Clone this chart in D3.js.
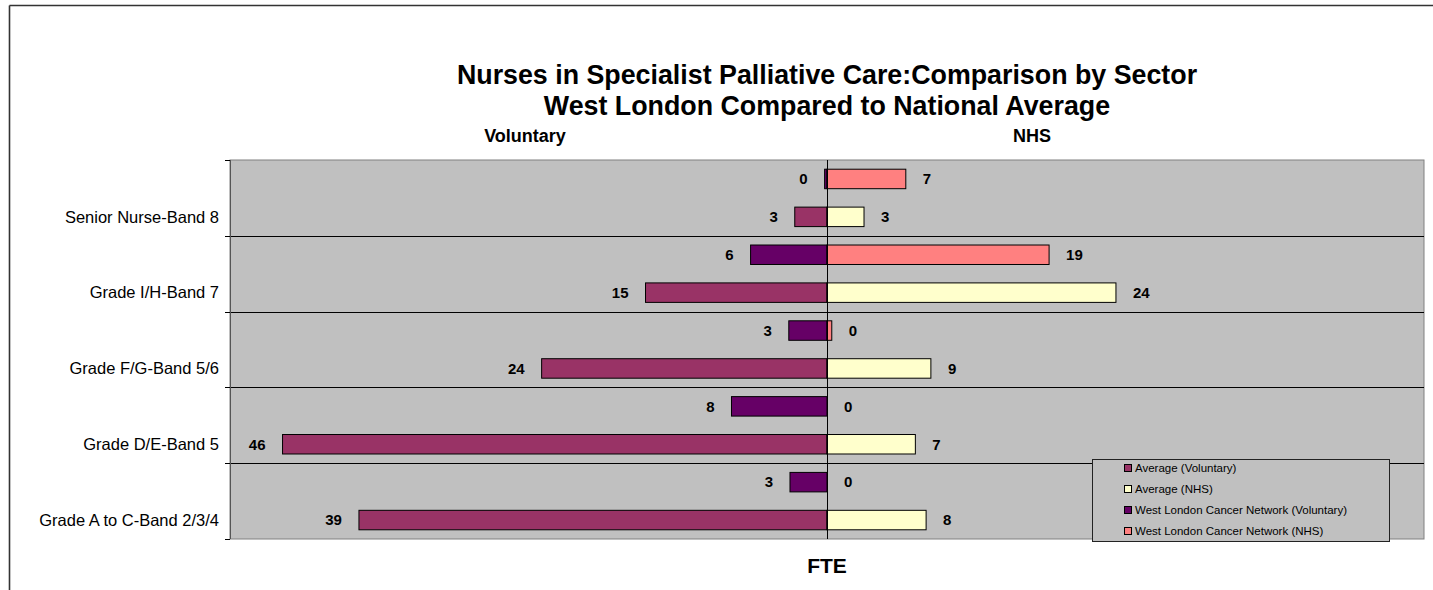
<!DOCTYPE html>
<html>
<head>
<meta charset="utf-8">
<script src="https://cdn.jsdelivr.net/npm/d3@7"></script>
<style>
  body { margin: 0; background: #fff; overflow: hidden; }
  text { font-family: Arial, "Liberation Sans", sans-serif; }
</style>
</head>
<body>
<div id="chart"></div>
<script>
// categories, top to bottom
var categories = ["Senior Nurse-Band 8", "Grade I/H-Band 7", "Grade F/G-Band 5/6", "Grade D/E-Band 5", "Grade A to C-Band 2/3/4"];

// FTE values (voluntary drawn to the left, NHS to the right)
var avgVoluntary = [2.7, 15.2, 23.9, 45.6, 39.2];
var avgNHS = [3.1, 24.2, 8.7, 7.4, 8.3];
var wlVoluntary = [0.2, 6.4, 3.2, 8.0, 3.1];
var wlNHS = [6.6, 18.6, 0.4, 0, 0];

var legendLabels = ["Average (Voluntary)", "Average (NHS)", "West London Cancer Network (Voluntary)", "West London Cancer Network (NHS)"];
var colors = ["#993366", "#FFFFCC", "#660066", "#FF8080"];

function init() {
    var width = 1433;
    var height = 590;

    var plot = { left: 230, right: 1424, top: 160, bottom: 539 };

    var svg = d3.select("#chart")
        .append("svg")
        .attr("width", width)
        .attr("height", height)
        .style("display", "block");

    // outer chart frame (only top and left edges fall inside the picture)
    svg.append("line")
        .attr("x1", 9.5).attr("x2", width + 10)
        .attr("y1", 5.5).attr("y2", 5.5)
        .attr("stroke", "#333")
        .attr("stroke-width", 1.6);
    svg.append("line")
        .attr("x1", 9.5).attr("x2", 9.5)
        .attr("y1", 5.5).attr("y2", height + 10)
        .attr("stroke", "#333")
        .attr("stroke-width", 1.6);

    var x = d3.scaleLinear()
        .domain([-50, 50])
        .range([plot.left, plot.right]);

    var y = d3.scaleBand()
        .domain(categories)
        .range([plot.top, plot.bottom]);

    // two bar rows per category: network on top, average below
    var ySub = d3.scaleBand()
        .domain(["wl", "avg"])
        .range([0, y.bandwidth()])
        .paddingInner(0.486)
        .paddingOuter(0.243);

    // plot area
    svg.append("rect")
        .attr("x", plot.left).attr("y", plot.top)
        .attr("width", plot.right - plot.left)
        .attr("height", plot.bottom - plot.top)
        .attr("fill", "#C0C0C0")
        .attr("stroke", "#808080")
        .attr("stroke-width", 1);

    // gridlines between categories
    var bounds = categories.slice(1).map(function (c) { return Math.round(y(c)) + 0.5; });
    svg.selectAll(".grid")
        .data(bounds)
        .enter()
        .append("line")
        .attr("x1", plot.left).attr("x2", plot.right)
        .attr("y1", function (d) { return d; })
        .attr("y2", function (d) { return d; })
        .attr("stroke", "#000")
        .attr("stroke-width", 1);

    // left category axis with ticks on band edges
    var ticks = [plot.top].concat(categories.slice(1).map(function (c) { return y(c); })).concat([plot.bottom]);
    svg.append("line")
        .attr("x1", plot.left + 0.5).attr("x2", plot.left + 0.5)
        .attr("y1", plot.top).attr("y2", plot.bottom)
        .attr("stroke", "#555");
    svg.selectAll(".tick")
        .data(ticks)
        .enter()
        .append("line")
        .attr("x1", plot.left - 5).attr("x2", plot.left)
        .attr("y1", function (d) { return Math.round(d) + 0.5; })
        .attr("y2", function (d) { return Math.round(d) + 0.5; })
        .attr("stroke", "#000");

    // series table built from the arrays
    var series = [
        { key: "avg", values: avgVoluntary, sign: -1, color: colors[0] },
        { key: "avg", values: avgNHS, sign: 1, color: colors[1] },
        { key: "wl", values: wlVoluntary, sign: -1, color: colors[2] },
        { key: "wl", values: wlNHS, sign: 1, color: colors[3] }
    ];

    var rows = [];
    series.forEach(function (s) {
        s.values.forEach(function (v, i) {
            rows.push({ cat: categories[i], key: s.key, value: v * s.sign, color: s.color });
        });
    });

    var bars = svg.append("g");

    bars.selectAll("rect")
        .data(rows.filter(function (d) { return d.value !== 0; }))
        .enter()
        .append("rect")
        .attr("x", function (d) { return Math.min(x(0), x(d.value)); })
        .attr("y", function (d) { return y(d.cat) + ySub(d.key); })
        .attr("width", function (d) { return Math.abs(x(d.value) - x(0)); })
        .attr("height", ySub.bandwidth())
        .attr("fill", function (d) { return d.color; })
        .attr("stroke", "#000")
        .attr("stroke-width", 1);

    // data labels
    bars.selectAll("text")
        .data(rows)
        .enter()
        .append("text")
        .attr("x", function (d) { return d.value < 0 ? x(d.value) - 17 : x(d.value) + 17; })
        .attr("y", function (d) { return y(d.cat) + ySub(d.key) + ySub.bandwidth() / 2; })
        .attr("dy", "0.35em")
        .attr("text-anchor", function (d) { return d.value < 0 ? "end" : "start"; })
        .style("font-size", "15px")
        .style("font-weight", "bold")
        .text(function (d) { return Math.round(Math.abs(d.value)); });

    // zero axis
    svg.append("line")
        .attr("x1", Math.round(x(0)) + 0.5).attr("x2", Math.round(x(0)) + 0.5)
        .attr("y1", plot.top).attr("y2", plot.bottom)
        .attr("stroke", "#000");

    // category labels, aligned to the average bar
    svg.selectAll(".cat")
        .data(categories)
        .enter()
        .append("text")
        .attr("x", 219)
        .attr("y", function (d) { return y(d) + ySub("avg") + ySub.bandwidth() / 2; })
        .attr("dy", "0.35em")
        .attr("text-anchor", "end")
        .style("font-size", "16.5px")
        .text(function (d) { return d; });

    // titles
    svg.append("text")
        .attr("x", 827).attr("y", 84)
        .attr("text-anchor", "middle")
        .style("font-size", "26.8px")
        .style("font-weight", "bold")
        .text("Nurses in Specialist Palliative Care:Comparison by Sector");
    svg.append("text")
        .attr("x", 827).attr("y", 115)
        .attr("text-anchor", "middle")
        .style("font-size", "26.8px")
        .style("font-weight", "bold")
        .text("West London Compared to National Average");

    svg.append("text")
        .attr("x", 525).attr("y", 142)
        .attr("text-anchor", "middle")
        .style("font-size", "18px")
        .style("font-weight", "bold")
        .text("Voluntary");
    svg.append("text")
        .attr("x", 1032).attr("y", 142)
        .attr("text-anchor", "middle")
        .style("font-size", "18px")
        .style("font-weight", "bold")
        .text("NHS");
    svg.append("text")
        .attr("x", 827).attr("y", 573)
        .attr("text-anchor", "middle")
        .style("font-size", "21px")
        .style("font-weight", "bold")
        .text("FTE");

    // legend
    var legend = svg.append("g").attr("transform", "translate(1092,459)");
    legend.append("rect")
        .attr("x", 0.5).attr("y", 0.5)
        .attr("width", 297).attr("height", 82)
        .attr("fill", "#C0C0C0")
        .attr("stroke", "#222");
    var item = legend.selectAll(".item")
        .data(legendLabels)
        .enter()
        .append("g")
        .attr("transform", function (d, i) { return "translate(32," + (9 + i * 21) + ")"; });
    item.append("rect")
        .attr("x", 0.5).attr("y", -3.5)
        .attr("width", 7).attr("height", 7)
        .attr("fill", function (d, i) { return colors[i]; })
        .attr("stroke", "#000");
    item.append("text")
        .attr("x", 11).attr("y", 0)
        .attr("dy", "0.35em")
        .style("font-size", "11.5px")
        .text(function (d) { return d; });
}

window.onload = init;
</script>
</body>
</html>
